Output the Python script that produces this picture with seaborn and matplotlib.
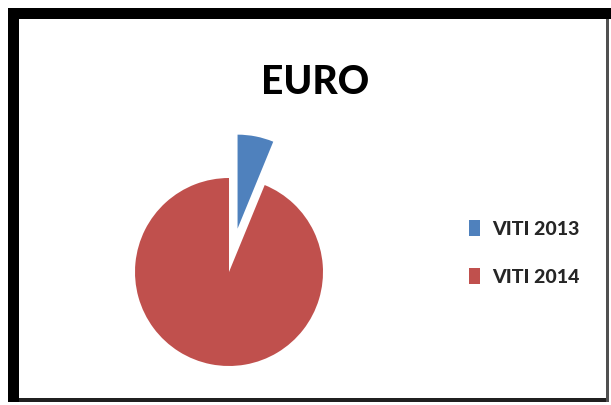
import matplotlib
matplotlib.use("Agg")
import matplotlib.pyplot as plt
from matplotlib.patches import Rectangle, Patch
import seaborn as sns

# Share of each year
labels = ["VITI 2013", "VITI 2014"]
values = [6.2, 93.8]
colors = ["#4F81BD", "#C0504D"]

sns.set_theme(style="white")
plt.rcParams["font.family"] = ["Lato", "DejaVu Sans"]

W, H = 611, 405
fig = plt.figure(figsize=(W / 100, H / 100), dpi=100)
fig.patch.set_facecolor("white")

# Pie axes placed around the circle's bounding box
cx, cy, r = 229, 272, 94
ax = fig.add_axes([(cx - r) / W, (H - cy - r) / H, 2 * r / W, 2 * r / H])
wedges, _ = ax.pie(values, colors=colors, startangle=90, counterclock=False,
                   explode=[0.47, 0.0], radius=1.0,
                   wedgeprops=dict(linewidth=0))
for w in wedges:
    w.set_clip_on(False)
ax.set_xlim(-1, 1)
ax.set_ylim(-1, 1)
ax.set_aspect("equal")
ax.axis("off")

fig.text(315 / W, 1 - 83 / H, "EURO", ha="center", va="center",
         fontsize=28, fontweight="black", color="black")

handles = [Patch(facecolor=c, edgecolor="none") for c in colors]
fig.legend(handles, labels, loc="center left",
           bbox_to_anchor=(452 / W, 1 - 253 / H), frameon=False,
           prop=dict(size=14, weight="black"), handlelength=0.55,
           handleheight=0.9, handletextpad=0.6, labelspacing=1.55)


def band(x0, y0, x1, y1, color):
    # Filled strip given in pixel coordinates from the top-left corner
    fig.patches.append(Rectangle((x0 / W, 1 - y1 / H), (x1 - x0) / W,
                                 (y1 - y0) / H, transform=fig.transFigure,
                                 facecolor=color, edgecolor="none", zorder=10))


# Frame: heavy top and left edges, thin right and bottom edges
band(8, 8, 611, 19, "black")
band(8, 8, 19, 402, "black")
band(19, 398, 609, 402, "#202020")
band(606, 19, 609, 402, "#505050")

fig.savefig("out.png", dpi=100)
